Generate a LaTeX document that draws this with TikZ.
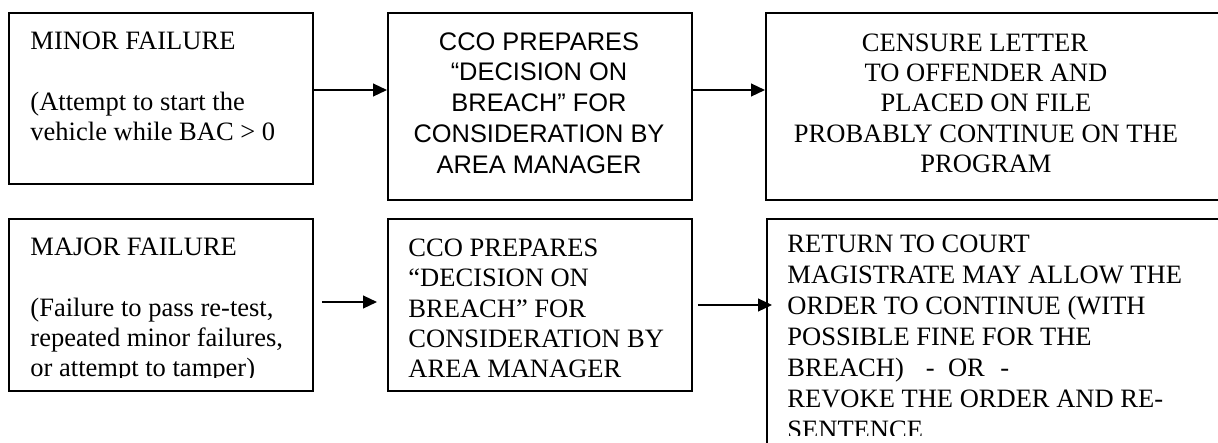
\documentclass[tikz,border=0pt]{standalone}
\usepackage{fontspec}
\setmainfont{Liberation Serif}
\newfontfamily\arialfont{Liberation Sans}
\usepackage{tikz}
\usetikzlibrary{positioning, arrows.meta, calc}

\begin{document}
\begin{tikzpicture}[x=0.4525pt, y=-0.4525pt, box/.style={draw, line width=0.8pt, anchor=north west, inner sep=0pt, minimum width=137.6pt},txt/.style={inner sep=0pt, font=\fontsize{12}{13.8}\selectfont},arr/.style={line width=0.7pt, -{Triangle[length=6.3pt, width=5.8pt]}}]
\useasboundingbox (0,0) rectangle (1218,442);
\node[box, minimum height=77.4pt] (minor) at (8,12) {};
\node[box, minimum height=84.6pt] (ccoA) at (387,12) {};
\node[box, minimum height=84.6pt, minimum width=208.2pt] (censure) at (765,12) {};
\node[box, minimum height=77.8pt] (major) at (8,218) {};
\node[box, minimum height=77.8pt] (ccoB) at (387,218) {};
\node[box, minimum height=108.6pt, minimum width=208.2pt] (court) at (766,218) {};
\node[txt, anchor=north west, align=left] (minorT) at (30,31) {MINOR FAILURE\\[13.8pt](Attempt to start the\\vehicle while BAC > 0};
\node[txt, anchor=north, align=center, font=\arialfont\fontsize{11.5}{13.9}\selectfont] (ccoAT) at (539,32) {CCO PREPARES\\“DECISION ON\\BREACH” FOR\\CONSIDERATION BY\\AREA MANAGER};
\node[txt, anchor=north, align=center] (censureT) at (986,33) {CENSURE LETTER\hspace*{10pt}\\TO OFFENDER AND\hspace*{10pt}\\PLACED ON FILE\hspace*{19pt}\\PROBABLY CONTINUE ON THE\\PROGRAM};
\begin{scope}
\clip (major.north west) rectangle ($(major.south east)+(0,-14)$);
\node[txt, anchor=north west, align=left] (majorT) at (30,237) {MAJOR FAILURE\\[13.8pt](Failure to pass re-test,\\repeated minor failures,\\or attempt to tamper)};
\end{scope}
\node[txt, anchor=north west, align=left] (ccoBT) at (408,238) {CCO PREPARES\\“DECISION ON\\BREACH” FOR\\CONSIDERATION BY\\AREA MANAGER};
\begin{scope}
\clip (court.north west) rectangle (1218,435);
\node[txt, anchor=north west, align=left, font=\fontsize{12}{14.1}\selectfont] (courtT) at (787,234) {RETURN TO COURT\\MAGISTRATE MAY ALLOW THE\\ORDER TO CONTINUE (WITH\\POSSIBLE FINE FOR THE\\BREACH)\hspace{10pt}-\hspace{6pt}OR\hspace{7pt}-\\REVOKE THE ORDER AND RE-\\SENTENCE};
\end{scope}
\draw[arr] ($(minor.north east)+(0,78)$) -- ($(ccoA.north west)+(0,78)$);
\draw[arr] ($(ccoA.north east)+(0,78)$) -- ($(censure.north west)+(0,78)$);
\draw[arr] ($(major.north east)+(8,84)$) -- ($(ccoB.north west)+(-10,84)$);
\draw[arr] ($(ccoB.north east)+(5,87)$) -- ($(court.north west)+(6,87)$);
\end{tikzpicture}
\end{document}
